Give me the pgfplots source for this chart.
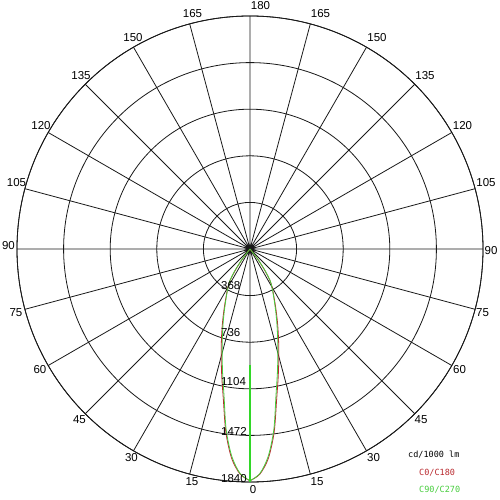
\documentclass[border=0pt]{standalone}
\usepackage{pgfplots}
\usepackage{pgfplotstable}
\pgfplotsset{compat=1.18}
\usepgfplotslibrary{polar}
\usepackage{fontspec}
\setmainfont{Liberation Sans}
\newfontfamily\legfont{DejaVu Sans Mono}

\definecolor{cred}{RGB}{185,40,45}
\definecolor{cgreen}{RGB}{70,205,60}
\definecolor{cgreenline}{RGB}{50,215,40}

% gamma (deg from nadir) and intensity (cd/1000 lm)
\pgfplotstableread{
gamma I
0    1830
2.5  1780
5    1660
7.5  1460
10   1210
12.5 1030
15   880
17.5 750
20   640
22.5 545
25   465
27.5 400
30   350
32.5 290
35   190
37.5 90
40   0
}\czero

\pgfplotstableread{
gamma I
0    1830
2.5  1775
5    1645
7.5  1440
10   1180
12.5 1000
15   850
17.5 725
20   620
22.5 530
25   455
27.5 395
30   345
32.5 295
35   205
37.5 100
40   0
}\cninety

\newcommand{\lab}[3]{\node[inner sep=0pt] at ({#1-250},{249-#2}) {#3};}

\begin{document}
\begin{tikzpicture}
  \begin{scope}[x=1pt,y=1pt]
    \fill[white] (-250,-251) rectangle (250,249);
    \path[use as bounding box] (-250,-251) rectangle (250,249);
  \end{scope}
  \begin{polaraxis}[
      at={(0,0)}, anchor=center,
      width=466pt, height=466pt, scale only axis,
      xmin=0, xmax=360, ymin=0, ymax=1840,
      xtick={0,15,...,345},
      ytick={368,736,1104,1472,1840},
      xticklabels={}, yticklabels={},
      major tick length=0pt,
      grid=major,
      major grid style={black!90, line width=0.8pt},
      x axis line style={black!90, line width=0.8pt},
      y axis line style={draw=none},
    ]
    % C0/C180
    \addplot[cred, line width=0.8pt, smooth]
      table[x expr=270+\thisrow{gamma}, y=I] {\czero};
    \addplot[cred, line width=0.8pt, smooth]
      table[x expr=270-\thisrow{gamma}, y=I] {\czero};
    % C90/C270
    \addplot[cgreen, line width=0.8pt, smooth]
      table[x expr=270+\thisrow{gamma}, y=I] {\cninety};
    \addplot[cgreen, line width=0.8pt, smooth]
      table[x expr=270-\thisrow{gamma}, y=I] {\cninety};
    \addplot[cgreenline, line width=1.6pt] coordinates {(270,916) (270,1840)};
  \end{polaraxis}
  \begin{scope}[x=1pt,y=1pt, font=\fontsize{11.5}{13}\selectfont]
    % angle labels
    \lab{260.5}{6}{180}
    \lab{320.5}{14}{165}
    \lab{377}{38}{150}
    \lab{425}{76}{135}
    \lab{462.5}{126}{120}
    \lab{486}{182.5}{105}
    \lab{491}{250.5}{90}
    \lab{482.5}{312.5}{75}
    \lab{459.5}{369.5}{60}
    \lab{421}{419.5}{45}
    \lab{373.5}{457.5}{30}
    \lab{317}{482}{15}
    \lab{253}{490}{0}
    \lab{192.5}{14}{165}
    \lab{133}{38}{150}
    \lab{81}{76}{135}
    \lab{41}{126}{120}
    \lab{16.5}{182.5}{105}
    \lab{8.5}{245.5}{90}
    \lab{16}{313}{75}
    \lab{40}{370}{60}
    \lab{79.5}{420}{45}
    \lab{131.5}{457.5}{30}
    \lab{192}{482}{15}
    % radial labels
    \node[inner sep=0pt, anchor=west] at (221-250, 249-286) {368};
    \node[inner sep=0pt, anchor=west] at (221-250, 249-333) {736};
    \node[inner sep=0pt, anchor=west] at (221-250, 249-382) {1104};
    \node[inner sep=0pt, anchor=west] at (221-250, 249-431) {1472};
    \node[inner sep=0pt, anchor=west] at (221-250, 249-479) {1840};
    % legend
    \node[inner sep=0pt, anchor=west, font=\legfont\fontsize{8.5}{10}\selectfont]
      at (408-250, 249-455) {cd/1000 lm};
    \node[inner sep=0pt, anchor=west, text=cred, font=\legfont\fontsize{8.5}{10}\selectfont]
      at (419-250, 249-472.5) {C0/C180};
    \node[inner sep=0pt, anchor=west, text=cgreen, font=\legfont\fontsize{8.5}{10}\selectfont]
      at (419-250, 249-489.5) {C90/C270};
  \end{scope}
\end{tikzpicture}
\end{document}
